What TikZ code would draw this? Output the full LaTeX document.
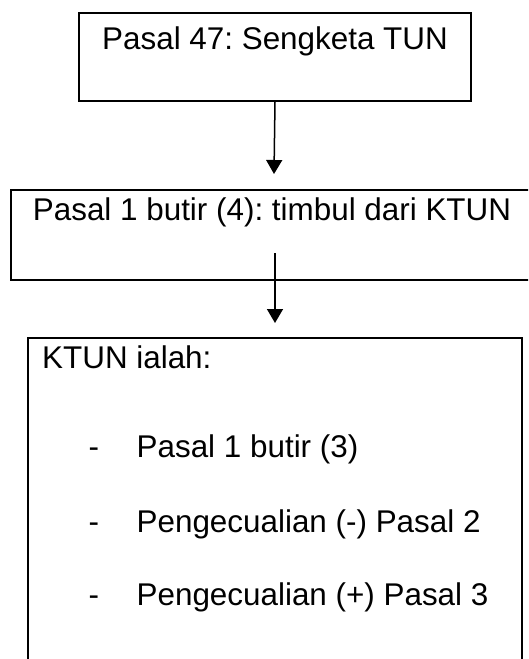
\documentclass[tikz,border=0pt]{standalone}
\usepackage{fontspec}
\setmainfont{Liberation Sans}
\usetikzlibrary{arrows.meta,positioning}
\frenchspacing

\begin{document}
\begin{tikzpicture}[x=1pt,y=-1pt,
  every node/.style={font=\fontsize{31.4pt}{37pt}\selectfont},
  box/.style={draw,line width=2pt,inner sep=0pt,anchor=north west},
  item/.style={inner sep=0pt,anchor=base west},
  arr/.style={line width=1.5pt,-{Triangle[length=14pt,width=16pt]}}]
\clip (0,0) rectangle (528,659);
\node[box,minimum width=392pt,text height=36pt,text depth=52pt] (sengketa) at (78,12) {Pasal 47: Sengketa TUN};
\node[box,minimum width=522pt,text height=30pt,text depth=60pt] (butir) at (10,189) {Pasal 1 butir (4): timbul dari KTUN};
\node[box,minimum width=494pt,minimum height=400pt] (ktun) at (27,337) {};
\node[item] (ialah) at (42,368) {KTUN ialah:};
\node[item] (butir3) at (88.5,457) {\makebox[48pt][l]{-}Pasal 1 butir (3)};
\node[item] (pasal2) at (88.5,532) {\makebox[48pt][l]{-}Pengecualian (-) Pasal 2};
\node[item] (pasal3) at (88.5,605) {\makebox[48pt][l]{-}Pengecualian (+) Pasal 3};
\coordinate (tip1) at (274,174);
\coordinate (start2) at (275,253);
\coordinate (tip2) at (275,323);
\draw[arr] (sengketa.south) -- (tip1);
\draw[arr] (start2) -- (tip2);
\end{tikzpicture}
\end{document}
